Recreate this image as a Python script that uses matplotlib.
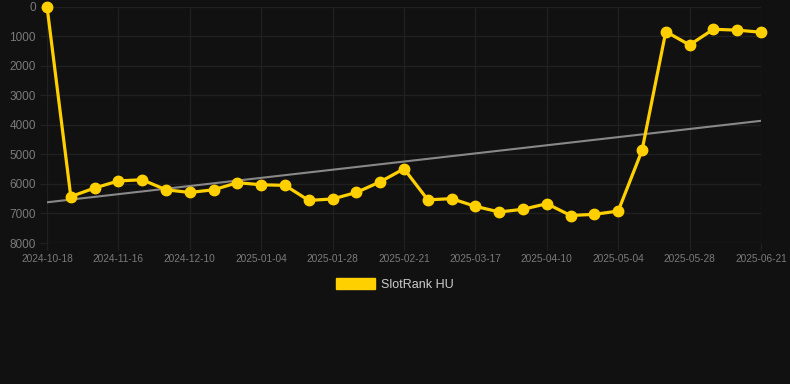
import matplotlib
matplotlib.use("Agg")
import matplotlib.pyplot as plt
from matplotlib.patches import Patch
import numpy as np

# weekly rank values (lower is better, axis is inverted)
rank = [0, 6430, 6140, 5900, 5860, 6200, 6290, 6200, 5960, 6030, 6050,
        6560, 6510, 6290, 5930, 5490, 6540, 6500, 6760, 6950, 6860,
        6670, 7070, 7030, 6920, 4870, 850, 1300, 770, 800, 870]
tick_labels = ["2024-10-18", "2024-11-16", "2024-12-10", "2025-01-04",
               "2025-01-28", "2025-02-21", "2025-03-17", "2025-04-10",
               "2025-05-04", "2025-05-28", "2025-06-21"]
y_ticks = [0, 1000, 2000, 3000, 4000, 5000, 6000, 7000, 8000]

plt.rcParams['font.family'] = ['Liberation Sans', 'DejaVu Sans']

bg = "#111111"
yellow = "#FFD000"
grid_col = "#202020"
txt_col = "#7a7a7a"

x = np.arange(len(rank))

fig = plt.figure(figsize=(7.9, 3.84), dpi=100, facecolor=bg)
ax = fig.add_axes([47/790, 1 - 243/384, (761-47)/790, (243-6.5)/384])
ax.set_facecolor(bg)

# trend line (least squares fit)
fit = np.polyfit(x, rank, 1)
ax.plot(x, fit[0]*x + fit[1], color="#888888", lw=1.5, zorder=2)

ax.plot(x, rank, color=yellow, lw=2.3, marker="o", markersize=7.5,
        clip_on=False, zorder=3)

ax.set_xlim(0, len(rank) - 1)
ax.set_ylim(8000, 0)
ax.set_xticks(x[::3])
ax.set_xticklabels(tick_labels)
ax.set_yticks(y_ticks)

for s in ax.spines.values():
    s.set_visible(False)
ax.grid(True, color=grid_col, lw=1)
ax.tick_params(colors=grid_col, length=5, width=1, labelcolor=txt_col,
               labelsize=7.3, pad=3)
for lab in ax.get_yticklabels():
    lab.set_fontsize(8.5)

# legend shows a filled box, like the original
fig.legend(handles=[Patch(facecolor=yellow, edgecolor=yellow, label="SlotRank HU")],
           loc="upper center", bbox_to_anchor=(0.5, 1 - 267/384),
           frameon=False, fontsize=9, labelcolor="#cccccc",
           handlelength=3.1, handleheight=1.0, handletextpad=0.45)

fig.savefig("out.png", dpi=100, facecolor=bg)
